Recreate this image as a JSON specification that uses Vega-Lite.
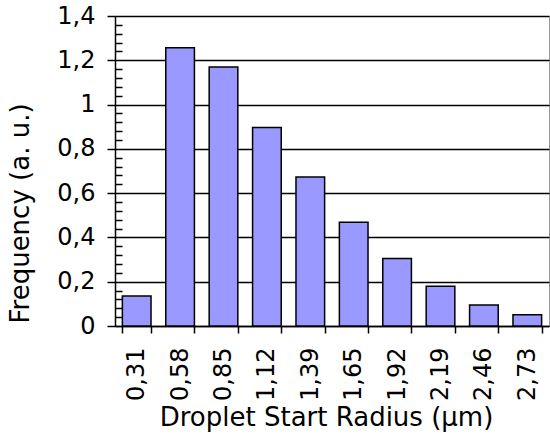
{
  "$schema": "https://vega.github.io/schema/vega-lite/v6.json",
  "width": 434,
  "height": 310,
  "autosize": {"type": "none"},
  "padding": {"left": 115, "top": 16, "right": 1, "bottom": 111},
  "background": "white",
  "config": {
    "view": {"stroke": "#999999", "strokeWidth": 1},
    "font": "DejaVu Sans",
    "axis": {"labelFont": "DejaVu Sans", "titleFont": "DejaVu Sans", "labelColor": "#000", "titleColor": "#000", "titleFontWeight": "normal"}
  },
  "data": {
    "values": [
      {"radius": "0,31", "freq": 0.135},
      {"radius": "0,58", "freq": 1.257},
      {"radius": "0,85", "freq": 1.170},
      {"radius": "1,12", "freq": 0.896},
      {"radius": "1,39", "freq": 0.673},
      {"radius": "1,65", "freq": 0.468},
      {"radius": "1,92", "freq": 0.305},
      {"radius": "2,19", "freq": 0.180},
      {"radius": "2,46", "freq": 0.095},
      {"radius": "2,73", "freq": 0.051}
    ]
  },
  "resolve": {"axis": {"x": "independent", "y": "independent"}},
  "layer": [
    {
      "mark": {"type": "bar", "fill": "#9999FF", "stroke": "#000000", "strokeWidth": 1.5},
      "encoding": {
        "x": {
          "field": "radius", "type": "nominal", "sort": null,
          "scale": {"paddingInner": 0.34, "paddingOuter": 0.17},
          "axis": {
            "orient": "bottom",
            "title": "Droplet Start Radius (µm)",
            "titleFontSize": 26, "titlePadding": 4, "titleX": 211,
            "labelFontSize": 24, "labelAngle": -90, "labelPadding": 14,
            "tickBand": "extent", "tickSize": 7, "tickColor": "#000", "tickWidth": 1.5,
            "domainColor": "#000", "domainWidth": 1.5, "grid": false
          }
        },
        "y": {
          "field": "freq", "type": "quantitative",
          "scale": {"domain": [0, 1.4], "nice": false, "zero": true},
          "axis": {
            "orient": "left",
            "title": "Frequency (a. u.)",
            "titleFontSize": 26, "titleX": -82, "titleY": 197, "titleBaseline": "bottom", "titleAlign": "center", "titleAngle": -90,
            "labelFontSize": 24, "labelPadding": 12,
            "values": [0, 0.2, 0.4, 0.6, 0.8, 1, 1.2, 1.4],
            "labelExpr": "replace(format(datum.value, '.1~f'), '.', ',')",
            "tickSize": 8, "tickColor": "#000", "tickWidth": 1.5,
            "domainColor": "#000", "domainWidth": 1.5,
            "grid": true, "gridColor": "#000", "gridWidth": 1.5, "gridOpacity": 1
          }
        }
      }
    },
    {
      "mark": {"type": "bar", "fillOpacity": 0, "strokeOpacity": 0},
      "encoding": {
        "x": {
          "field": "radius", "type": "nominal", "sort": null,
          "axis": {
            "orient": "top", "offset": -310, "title": null, "labels": false,
            "domain": false, "grid": false, "tickBand": "center",
            "tickSize": 5, "tickColor": "#000", "tickWidth": 1.5
          }
        },
        "y": {
          "field": "freq", "type": "quantitative",
          "axis": {
            "orient": "right", "offset": -434, "title": null, "labels": false,
            "domain": false, "grid": false,
            "values": [0.04, 0.08, 0.12, 0.16, 0.24, 0.28, 0.32, 0.36, 0.44, 0.48, 0.52, 0.56, 0.64, 0.68, 0.72, 0.76, 0.84, 0.88, 0.92, 0.96, 1.04, 1.08, 1.12, 1.16, 1.24, 1.28, 1.32, 1.36],
            "tickSize": 7, "tickColor": "#000", "tickWidth": 1.5
          }
        }
      }
    }
  ]
}
